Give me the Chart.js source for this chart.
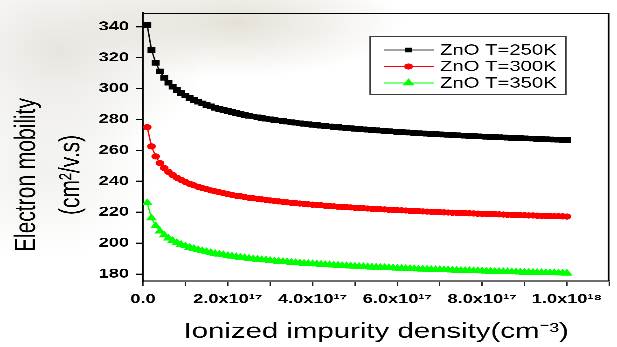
<!DOCTYPE html>
<html>
<head>
<meta charset="utf-8">
<script src="https://cdn.jsdelivr.net/npm/chart.js@4/dist/chart.umd.min.js"></script>
<style>
html, body { margin: 0; padding: 0; width: 617px; height: 347px; overflow: hidden; background: #fff; }
#bg { position: absolute; left: 0; top: 0; width: 617px; height: 347px;
  background:
    radial-gradient(ellipse 170px 55px at 235px 22px, rgba(210,204,188,0.6), rgba(255,255,255,0) 100%),
    radial-gradient(ellipse 150px 110px at 60px 50px, rgba(220,218,210,0.7), rgba(255,255,255,0) 100%),
    radial-gradient(ellipse 120px 90px at 40px 170px, rgba(230,229,224,0.55), rgba(255,255,255,0) 100%),
    #ffffff; }
#wrap { position: absolute; left: 0; top: 0; width: 441px; height: 347px;
  transform: scaleX(1.39909); transform-origin: 0 0; }
</style>
</head>
<body>
<div id="bg"></div>
<div id="wrap"><canvas id="c" width="441" height="347"></canvas></div>
<script>
// Ionized impurity density (cm^-3)
const densities = [
  1e16, 2e16, 3e16, 4e16, 5e16, 6e16, 7e16, 8e16, 9e16, 10e16,
  11e16, 12e16, 13e16, 14e16, 15e16, 16e16, 17e16, 18e16, 19e16, 20e16,
  21e16, 22e16, 23e16, 24e16, 25e16, 26e16, 27e16, 28e16, 29e16, 30e16,
  31e16, 32e16, 33e16, 34e16, 35e16, 36e16, 37e16, 38e16, 39e16, 40e16,
  41e16, 42e16, 43e16, 44e16, 45e16, 46e16, 47e16, 48e16, 49e16, 50e16,
  51e16, 52e16, 53e16, 54e16, 55e16, 56e16, 57e16, 58e16, 59e16, 60e16,
  61e16, 62e16, 63e16, 64e16, 65e16, 66e16, 67e16, 68e16, 69e16, 70e16,
  71e16, 72e16, 73e16, 74e16, 75e16, 76e16, 77e16, 78e16, 79e16, 80e16,
  81e16, 82e16, 83e16, 84e16, 85e16, 86e16, 87e16, 88e16, 89e16, 90e16,
  91e16, 92e16, 93e16, 94e16, 95e16, 96e16, 97e16, 98e16, 99e16, 100e16
];

// Electron mobility (cm^2/V.s)
const mobility250K = [
  341.0, 325.0, 316.7, 311.1, 307.0, 303.8, 301.2, 299.0, 297.1, 295.5,
  294.0, 292.7, 291.5, 290.4, 289.4, 288.5, 287.6, 286.8, 286.1, 285.4,
  284.7, 284.1, 283.5, 283.0, 282.4, 281.9, 281.4, 281.0, 280.5, 280.1,
  279.7, 279.3, 278.9, 278.6, 278.2, 277.9, 277.5, 277.2, 276.9, 276.6,
  276.3, 276.0, 275.8, 275.5, 275.2, 275.0, 274.7, 274.5, 274.3, 274.0,
  273.8, 273.6, 273.4, 273.2, 273.0, 272.8, 272.6, 272.4, 272.2, 272.0,
  271.8, 271.7, 271.5, 271.3, 271.1, 271.0, 270.8, 270.7, 270.5, 270.4,
  270.2, 270.1, 269.9, 269.8, 269.6, 269.5, 269.4, 269.2, 269.1, 269.0,
  268.8, 268.7, 268.6, 268.5, 268.4, 268.2, 268.1, 268.0, 267.9, 267.8,
  267.7, 267.6, 267.4, 267.3, 267.2, 267.1, 267.0, 266.9, 266.8, 266.7
];
const mobility300K = [
  275.0, 262.6, 256.1, 251.8, 248.6, 246.1, 244.1, 242.3, 240.9, 239.6,
  238.4, 237.4, 236.5, 235.6, 234.9, 234.1, 233.5, 232.9, 232.3, 231.7,
  231.2, 230.7, 230.3, 229.8, 229.4, 229.0, 228.7, 228.3, 228.0, 227.6,
  227.3, 227.0, 226.7, 226.4, 226.1, 225.9, 225.6, 225.4, 225.1, 224.9,
  224.7, 224.5, 224.2, 224.0, 223.8, 223.6, 223.4, 223.3, 223.1, 222.9,
  222.7, 222.6, 222.4, 222.2, 222.1, 221.9, 221.8, 221.6, 221.5, 221.3,
  221.2, 221.1, 220.9, 220.8, 220.7, 220.5, 220.4, 220.3, 220.2, 220.0,
  219.9, 219.8, 219.7, 219.6, 219.5, 219.4, 219.3, 219.2, 219.1, 219.0,
  218.9, 218.8, 218.7, 218.6, 218.5, 218.4, 218.3, 218.2, 218.1, 218.0,
  217.9, 217.9, 217.8, 217.7, 217.6, 217.5, 217.4, 217.4, 217.3, 217.2
];
const mobility350K = [
  226.0, 216.2, 211.1, 207.7, 205.2, 203.2, 201.6, 200.3, 199.1, 198.1,
  197.2, 196.4, 195.7, 195.0, 194.4, 193.8, 193.3, 192.8, 192.4, 191.9,
  191.5, 191.1, 190.8, 190.4, 190.1, 189.8, 189.5, 189.2, 189.0, 188.7,
  188.4, 188.2, 188.0, 187.8, 187.5, 187.3, 187.1, 186.9, 186.7, 186.6,
  186.4, 186.2, 186.0, 185.9, 185.7, 185.6, 185.4, 185.3, 185.1, 185.0,
  184.8, 184.7, 184.6, 184.4, 184.3, 184.2, 184.1, 184.0, 183.9, 183.7,
  183.6, 183.5, 183.4, 183.3, 183.2, 183.1, 183.0, 182.9, 182.8, 182.7,
  182.6, 182.6, 182.5, 182.4, 182.3, 182.2, 182.1, 182.0, 182.0, 181.9,
  181.8, 181.7, 181.6, 181.6, 181.5, 181.4, 181.3, 181.3, 181.2, 181.1,
  181.1, 181.0, 180.9, 180.9, 180.8, 180.7, 180.7, 180.6, 180.6, 180.5
];

const seriesLabels = ['ZnO T=250K', 'ZnO T=300K', 'ZnO T=350K'];
const xTickLabels = ['0.0', '', '2.0x10\u00B9\u2077', '', '4.0x10\u00B9\u2077', '', '6.0x10\u00B9\u2077', '', '8.0x10\u00B9\u2077', '', '1.0x10\u00B9\u2078', ''];
const yTickValues = [180, 200, 220, 240, 260, 280, 300, 320, 340];
const xAxisTitle = 'Ionized impurity density(cm\u207B\u00B3)';
const yAxisTitle = ['Electron mobility', '(cm\u00B2/v.s)'];

const FONT = "'Liberation Sans', Arial, sans-serif";

function toPoints(ys) { return densities.map((d, i) => ({ x: d, y: ys[i] })); }

function drawMarker(ctx, style, x, y, r, color) {
  ctx.fillStyle = color;
  ctx.beginPath();
  if (style === 'rect') {
    const s = r * Math.SQRT1_2;
    ctx.rect(x - s, y - s, 2 * s, 2 * s);
  } else if (style === 'triangle') {
    ctx.moveTo(x, y - r);
    ctx.lineTo(x + r * 0.866, y + r * 0.5);
    ctx.lineTo(x - r * 0.866, y + r * 0.5);
    ctx.closePath();
  } else {
    ctx.arc(x, y, r, 0, Math.PI * 2);
  }
  ctx.fill();
}

const frameAndLegend = {
  id: 'frameAndLegend',
  beforeDatasetsDraw(chart) {
    const { ctx, chartArea: a } = chart;
    ctx.save();
    ctx.strokeStyle = '#000';
    ctx.lineWidth = 1.2;
    ctx.beginPath();
    ctx.moveTo(a.left, a.top + 0.5);
    ctx.lineTo(a.right - 0.5, a.top + 0.5);
    ctx.lineTo(a.right - 0.5, a.bottom);
    ctx.stroke();
    ctx.restore();
  },
  afterDraw(chart) {
    const ctx = chart.ctx;
    const x0 = 264, y0 = 36, w = 140, h = 58;
    ctx.save();
    ctx.fillStyle = '#fff';
    ctx.fillRect(x0, y0, w, h);
    ctx.strokeStyle = '#3a3a3a';
    ctx.lineWidth = 1;
    ctx.strokeRect(x0 + 0.5, y0 + 0.5, w, h);
    chart.data.datasets.forEach((ds, i) => {
      const cy = 50 + i * 16.5;
      ctx.strokeStyle = ds.legendLine;
      ctx.lineWidth = 1;
      ctx.beginPath();
      ctx.moveTo(274.5, cy);
      ctx.lineTo(310, cy);
      ctx.stroke();
      drawMarker(ctx, ds.pointStyle, 292, cy, ds.legendRadius, ds.pointBackgroundColor);
      ctx.fillStyle = '#000';
      ctx.font = '14.5px ' + FONT;
      ctx.textBaseline = 'middle';
      ctx.textAlign = 'left';
      ctx.fillText(ds.label, 314.5, cy + 0.5);
    });
    ctx.restore();
  }
};

new Chart(document.getElementById('c'), {
  type: 'line',
  data: {
    datasets: [
      { label: seriesLabels[0], data: toPoints(mobility250K), borderColor: '#000', borderWidth: 1,
        pointStyle: 'rect', pointRadius: 4, pointBackgroundColor: '#000', pointBorderWidth: 0,
        legendLine: '#444', legendRadius: 3.4 },
      { label: seriesLabels[1], data: toPoints(mobility300K), borderColor: '#ff0000', borderWidth: 1,
        pointStyle: 'circle', pointRadius: 3.1, pointBackgroundColor: '#ff0000', pointBorderWidth: 0,
        legendLine: '#ff0000', legendRadius: 3.1 },
      { label: seriesLabels[2], data: toPoints(mobility350K), borderColor: '#00ff00', borderWidth: 1,
        pointStyle: 'triangle', pointRadius: 4.6, pointBackgroundColor: '#00ff00', pointBorderWidth: 0,
        legendLine: '#00ff00', legendRadius: 4.8 }
    ]
  },
  options: {
    responsive: false,
    animation: false,
    devicePixelRatio: 3,
    events: [],
    layout: { padding: { left: 0, top: 11, right: 4, bottom: 8 } },
    plugins: {
      legend: { display: false },
      tooltip: { enabled: false },
      title: {
        display: true, position: 'left', text: yAxisTitle, color: '#000',
        font: { family: FONT, size: 21, weight: 'normal', lineHeight: 1.5 },
        padding: 3.5
      }
    },
    scales: {
      x: {
        type: 'linear', min: 0, max: 1.1e18,
        afterFit(scale) { scale.height = 58; },
        border: { display: true, color: '#6e6e6e', width: 2 },
        grid: { drawOnChartArea: false, drawTicks: true, tickLength: 5, tickColor: '#222', tickWidth: 1 },
        ticks: {
          stepSize: 1e17, autoSkip: false, maxRotation: 0, minRotation: 0, padding: 5.5,
          color: '#000', font: { family: FONT, size: 13, weight: 'bold' },
          callback: (v) => xTickLabels[Math.round(v / 1e17)]
        },
        title: {
          display: true, text: xAxisTitle, color: '#000',
          font: { family: FONT, size: 21, weight: 'normal', lineHeight: 1 },
          padding: { top: 0, bottom: -3.5 }
        }
      },
      y: {
        type: 'linear', min: 175.5, max: 349,
        afterFit(scale) { scale.width = 32.2; },
        border: { display: true, color: '#000', width: 1.5 },
        grid: { drawOnChartArea: false, drawTicks: true, tickLength: 5, tickColor: '#000', tickWidth: 1.2 },
        ticks: {
          stepSize: 10, includeBounds: false, padding: 5,
          color: '#000', font: { family: FONT, size: 13, weight: 'bold' },
          callback: (v) => (yTickValues.includes(v) ? String(v) : '')
        }
      }
    }
  },
  plugins: [frameAndLegend]
});
</script>
</body>
</html>
